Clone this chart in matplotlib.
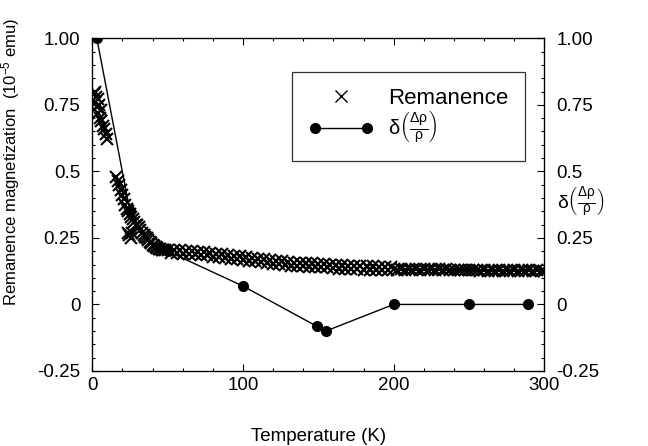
import numpy as np
import matplotlib
matplotlib.use('Agg')
import matplotlib.pyplot as plt
from matplotlib.lines import Line2D
from matplotlib.legend_handler import HandlerLine2D
from matplotlib.ticker import MultipleLocator

plt.rcParams['font.family'] = ['Liberation Sans', 'DejaVu Sans']
plt.rcParams['mathtext.fontset'] = 'custom'
plt.rcParams['mathtext.rm'] = 'Liberation Sans'
plt.rcParams['mathtext.it'] = 'Liberation Sans'
plt.rcParams['mathtext.bf'] = 'Liberation Sans:bold'

# Remanence (crosses)
T_low = [1, 1.5, 2, 2.5, 3, 3.5, 4, 4.5, 5, 5.5, 6, 7, 8, 9, 10]
R_low = [0.79, 0.80, 0.76, 0.78, 0.74, 0.77, 0.72, 0.75, 0.70, 0.73, 0.69, 0.67, 0.66, 0.64, 0.62]

T_mid = [16, 17, 18, 19, 20, 21, 22, 23, 23.5, 24, 24.5, 25, 25.5, 26, 26.5, 27, 28, 29,
         30, 31, 32, 33, 34, 35, 36, 37, 38, 39, 40, 41, 42, 43, 44, 45, 46, 47, 48]
R_mid = [0.48, 0.465, 0.45, 0.43, 0.41, 0.395, 0.375, 0.36, 0.27, 0.35, 0.26, 0.34, 0.25, 0.33, 0.27, 0.32, 0.31, 0.30,
         0.30, 0.29, 0.28, 0.27, 0.262, 0.255, 0.248, 0.242, 0.236, 0.23, 0.225, 0.22, 0.216, 0.213, 0.21, 0.208, 0.206, 0.205, 0.204]

T_tail = [50, 52, 54, 56, 58, 60, 62, 64, 66, 68, 70, 72, 74, 76, 78, 80, 82, 84, 86, 88,
          90, 92, 94, 96, 98, 100, 102, 104, 106, 108, 110, 112, 114, 116, 118, 120, 122, 124, 126, 128,
          130, 132, 134, 136, 138, 140, 142, 144, 146, 148, 150, 152, 154, 156, 158, 160, 162, 164, 166, 168,
          170, 172, 174, 176, 178, 180, 182, 184, 186, 188, 190, 192, 194, 196, 198]
R_tail = [0.206, 0.194, 0.205, 0.193, 0.203, 0.190, 0.201, 0.189, 0.200, 0.188,
          0.198, 0.185, 0.196, 0.184, 0.194, 0.180, 0.191, 0.178, 0.189, 0.176,
          0.185, 0.172, 0.183, 0.170, 0.181, 0.167, 0.178, 0.165, 0.176, 0.163,
          0.172, 0.159, 0.170, 0.157, 0.167, 0.153, 0.164, 0.151, 0.162, 0.149,
          0.158, 0.146, 0.157, 0.145, 0.156, 0.143, 0.155, 0.142, 0.154, 0.141,
          0.152, 0.140, 0.151, 0.139, 0.150, 0.136, 0.148, 0.135, 0.147, 0.134,
          0.146, 0.133, 0.145, 0.132, 0.144, 0.131, 0.143, 0.131, 0.143, 0.130,
          0.142, 0.130, 0.141, 0.129, 0.141]

T_high = [200, 202.5, 205, 207.5, 210, 212.5, 215, 217.5, 220, 222.5,
          225, 227.5, 230, 232.5, 235, 237.5, 240, 242.5, 245, 247.5,
          250, 252.5, 255, 257.5, 260, 262.5, 265, 267.5, 270, 272.5,
          275, 277.5, 280, 282.5, 285, 287.5, 290, 292.5, 295, 297.5, 300]
R_high = [0.134, 0.131, 0.134, 0.130, 0.133, 0.130, 0.133, 0.130, 0.133, 0.129,
          0.132, 0.129, 0.132, 0.129, 0.132, 0.128, 0.131, 0.128, 0.131, 0.128,
          0.131, 0.128, 0.130, 0.127, 0.130, 0.127, 0.130, 0.127, 0.129, 0.127,
          0.129, 0.126, 0.129, 0.126, 0.129, 0.126, 0.128, 0.126, 0.128, 0.126, 0.127]

# delta(drho/rho) (filled circles joined by a line)
T_delta = [3, 25, 50, 100, 149, 155, 200, 250, 289]
D_delta = [1.00, 0.35, 0.20, 0.069, -0.082, -0.10, 0.0, 0.0, 0.0]

y_ticks = [-0.25, 0, 0.25, 0.5, 0.75, 1.0]
y_ticklabels = ['-0.25', '0', '0.25', '0.5', '0.75', '1.00']
x_ticks = [0, 100, 200, 300]

T_rem = T_low + T_mid + T_tail + T_high
R_rem = R_low + R_mid + R_tail + R_high

fig = plt.figure(figsize=(6.48, 4.46), dpi=100)
ax = fig.add_axes([0.1424, 0.1682, 0.6976, 0.7460])

ax.plot(T_rem, R_rem, ls='none', marker='x', color='black', ms=8, mew=1.5, zorder=3)
ax.plot(T_delta, D_delta, '-', color='black', lw=1.0, marker='o', ms=7, zorder=4)

ax.set_xlim(0, 300)
ax.set_ylim(-0.25, 1.0)
ax.set_xticks(x_ticks)
ax.set_xticklabels([str(t) for t in x_ticks])
ax.set_yticks(y_ticks)
ax.set_yticklabels(y_ticklabels)
ax.xaxis.set_minor_locator(MultipleLocator(20))
ax.yaxis.set_minor_locator(MultipleLocator(0.05))
ax.tick_params(which='both', direction='in', top=True, right=True, labelsize=13.5, width=0.8)
ax.tick_params(which='major', length=5)
ax.tick_params(which='minor', length=2.5)
ax.tick_params(axis='x', which='major', pad=4)
ax.tick_params(axis='y', which='major', pad=8.5)
for s in ax.spines.values():
    s.set_linewidth(0.9)

ax2 = ax.twinx()
ax2.set_ylim(-0.25, 1.0)
ax2.set_yticks(y_ticks)
ax2.set_yticklabels(y_ticklabels)
ax2.yaxis.set_minor_locator(MultipleLocator(0.05))
ax2.tick_params(which='both', direction='in', labelsize=13.5, width=0.8)
ax2.tick_params(which='major', length=5, pad=8.5)
ax2.tick_params(which='minor', length=2.5)

ax.set_xlabel('Temperature (K)', fontsize=13.5)
ax.xaxis.set_label_coords(0.5, -0.171)
ax.set_ylabel('Remanence magnetization  (10$^{-5}$ emu)', fontsize=12)
ax.yaxis.set_label_coords(-0.155, 0.63)
ax.text(1.081, 0.508, r'$\delta\left(\frac{\Delta\rho}{\rho}\right)$', transform=ax.transAxes,
        ha='center', va='center', fontsize=14)

h1 = Line2D([], [], ls='none', marker='x', color='black', ms=8, mew=1.0)
h2 = Line2D([], [], ls='-', lw=1.0, marker='o', color='black', ms=7)
leg = ax.legend([h1, h2], ['Remanence', r'$\delta\left(\frac{\Delta\rho}{\rho}\right)$'],
                loc='upper left', bbox_to_anchor=(0.442, 0.899), borderaxespad=0,
                fontsize=16, handlelength=2.95, handletextpad=0.66, borderpad=0.72,
                labelspacing=0.0, numpoints=2, fancybox=False, edgecolor='black',
                handler_map={h1: HandlerLine2D(numpoints=1)})
leg.get_texts()[1].set_fontsize(14.5)
leg.get_frame().set_linewidth(0.9)

fig.savefig('out.png', dpi=100)
